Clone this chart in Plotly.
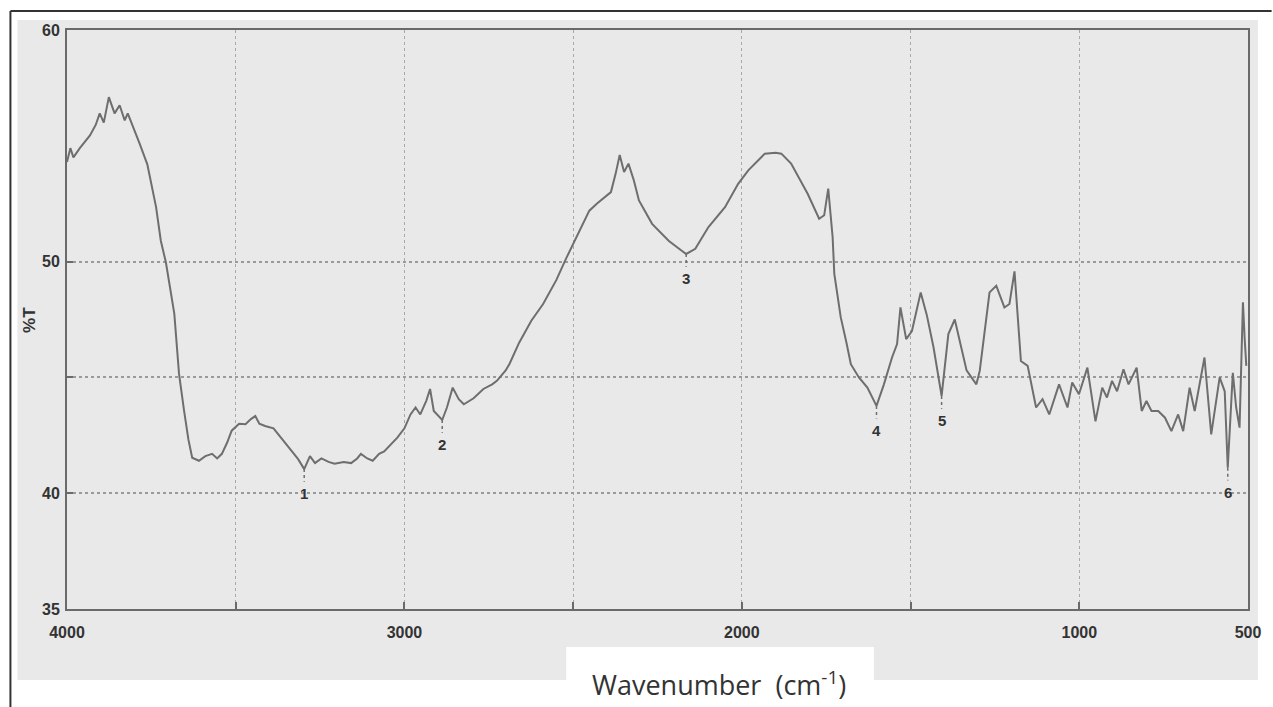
import numpy as np
import plotly.graph_objects as go

# ---- data ----
wavenumber = [4000, 3990, 3981, 3962, 3932, 3915, 3903, 3891, 3876, 3859, 3844, 3829, 3820, 3800,
              3785, 3762, 3745, 3736, 3722, 3707, 3682, 3668, 3653, 3640, 3629, 3609, 3590, 3570,
              3555, 3541, 3525, 3512, 3490, 3471, 3455, 3442, 3430, 3413, 3388, 3365, 3344, 3315,
              3297, 3280, 3265, 3246, 3225, 3207, 3180, 3158, 3140, 3129, 3110, 3094, 3075, 3060,
              3040, 3021, 3000, 2982, 2967, 2953, 2935, 2924, 2913, 2888, 2874, 2857, 2839, 2824,
              2795, 2766, 2740, 2726, 2700, 2688, 2660, 2624, 2589, 2550, 2521, 2491, 2452, 2430,
              2413, 2388, 2374, 2362, 2349, 2336, 2320, 2305, 2266, 2217, 2190, 2165, 2138, 2099,
              2050, 2011, 1981, 1950, 1932, 1900, 1883, 1854, 1805, 1771, 1756, 1744, 1731, 1726,
              1707, 1690, 1677, 1653, 1628, 1601, 1579, 1555, 1540, 1530, 1513, 1496, 1470, 1452,
              1432, 1408, 1388, 1369, 1334, 1305, 1295, 1266, 1246, 1222, 1207, 1192, 1173, 1153,
              1128, 1109, 1089, 1060, 1035, 1021, 1001, 976, 952, 932, 918, 903, 888, 869, 854,
              830, 815, 801, 786, 766, 746, 727, 707, 692, 673, 658, 629, 609, 584, 569, 560, 545,
              535, 525, 515, 510, 505]
transmittance = [54.3, 54.9, 54.5, 54.9, 55.45, 55.9, 56.4, 56.0, 57.1, 56.4, 56.75, 56.1, 56.4, 55.7,
                 55.1, 54.2, 53.0, 52.35, 50.9, 49.97, 47.75, 45.15, 43.55, 42.3, 41.53, 41.4, 41.6, 41.7,
                 41.5, 41.7, 42.2, 42.7, 43.0, 42.98, 43.2, 43.33, 43.0, 42.9, 42.8, 42.4, 42.0, 41.47,
                 41.04, 41.6, 41.3, 41.5, 41.35, 41.27, 41.35, 41.3, 41.5, 41.7, 41.5, 41.4, 41.7, 41.8,
                 42.1, 42.4, 42.8, 43.4, 43.7, 43.4, 44.0, 44.5, 43.55, 43.16, 43.7, 44.56, 44.06, 43.84,
                 44.1, 44.5, 44.7, 44.85, 45.3, 45.6, 46.5, 47.45, 48.17, 49.2, 50.13, 51.05, 52.2, 52.5,
                 52.7, 53.0, 53.8, 54.6, 53.87, 54.23, 53.5, 52.64, 51.63, 50.9, 50.6, 50.33, 50.55, 51.49,
                 52.35, 53.36, 53.94, 54.4, 54.66, 54.7, 54.66, 54.23, 52.93, 51.85, 52.0, 53.15, 51.05, 49.47,
                 47.6, 46.5, 45.57, 45.0, 44.56, 43.77, 44.7, 45.86, 46.44, 48.02, 46.65, 47.0, 48.67, 47.7,
                 46.3, 44.2, 46.87, 47.5, 45.3, 44.7, 45.28, 48.67, 48.96, 48.02, 48.17, 49.58, 45.71, 45.5,
                 43.7, 44.06, 43.4, 44.7, 43.7, 44.78, 44.27, 45.42, 43.1, 44.56, 44.13, 44.85, 44.4, 45.35, 44.7,
                 45.42, 43.55, 43.98, 43.55, 43.55, 43.26, 42.68, 43.4, 42.68, 44.56, 43.55, 45.86, 42.54, 45.0, 44.4, 41.1, 45.2,
                 43.7, 42.83, 48.24, 46.7, 45.5]

peak_wn = [3297, 2888, 2165, 1601, 1408, 560]
peak_labels = ["1", "2", "3", "4", "5", "6"]

x_tickvals = [4000, 3000, 2000, 1000, 500]
x_ticktext = ["4000", "3000", "2000", "1000", "500"]
x_minor = [3500, 2500, 1500]
y_tickvals = [35, 40, 50, 60]
y_ticktext = ["35", "40", "50", "60"]
y_minor = [45]

tick_font = dict(family="Liberation Sans Narrow, Arial Narrow, Liberation Sans, sans-serif",
                 size=16, color="#333333", weight="bold")

fig = go.Figure()
fig.add_trace(go.Scatter(x=wavenumber, y=transmittance, mode="lines",
                         line=dict(color="#6e6e6e", width=2), hoverinfo="skip", showlegend=False))

# peak labels with small dashed ticks below each minimum
w_rev = np.array(wavenumber[::-1], dtype=float)
t_rev = np.array(transmittance[::-1], dtype=float)
for pw, lab in zip(peak_wn, peak_labels):
    yv = float(np.interp(pw, w_rev, t_rev))
    fig.add_shape(type="line", xref="x", yref="y", x0=pw, x1=pw, y0=yv, y1=yv - 0.55,
                  line=dict(color="#6e6e6e", width=1.5, dash="dot"))
    fig.add_annotation(x=pw, y=yv - 0.6, xref="x", yref="y", text=lab, showarrow=False,
                       yanchor="top", font=dict(family="Liberation Sans Narrow, Arial Narrow, Liberation Sans, sans-serif",
                                                size=15, color="#333333", weight="bold"))

# paper-like gray background, white label box, outer frame
fig.add_shape(type="rect", xref="paper", yref="paper", x0=-0.042, x1=1.0084, y0=-0.1226, y1=1.0173,
              fillcolor="#e9e9e9", line=dict(width=0), layer="below")
fig.add_shape(type="rect", xref="paper", yref="paper", x0=0.4227, x1=0.6832, y0=-0.17, y1=-0.0656,
              fillcolor="#ffffff", line=dict(width=0), layer="below")
fig.add_shape(type="line", xref="paper", yref="paper", x0=-0.0479, x1=-0.0479, y0=-0.17, y1=1.0328,
              line=dict(color="#333333", width=2))
fig.add_shape(type="line", xref="paper", yref="paper", x0=-0.0479, x1=1.02, y0=1.0328, y1=1.0328,
              line=dict(color="#333333", width=2))

fig.add_annotation(xref="paper", yref="paper", x=0.552, y=-0.128, showarrow=False,
                   text="Wavenumber  (cm<sup>-1</sup>)", yanchor="middle",
                   font=dict(family="Open Sans, Noto Sans, sans-serif", size=27, color="#333333"))
fig.add_annotation(xref="paper", yref="paper", x=-0.042, y=0.499, showarrow=False, textangle=-90,
                   text="<b>%T</b>", font=dict(family="Liberation Sans, Arial, sans-serif",
                                               size=17, color="#333333"))

fig.update_layout(
    width=1273, height=707,
    margin=dict(l=67, r=16, t=30, b=98),
    paper_bgcolor="#ffffff", plot_bgcolor="#ececec",
    xaxis=dict(range=[4000, 500], tickvals=x_tickvals, ticktext=x_ticktext,
               showgrid=True, gridcolor="#a8a8a8", griddash="dot", gridwidth=1,
               showline=True, linecolor="#6a6a6a", linewidth=2, mirror=True,
               ticks="inside", ticklen=7, tickcolor="#6a6a6a", tickwidth=2,
               minor=dict(tickvals=x_minor, showgrid=True, gridcolor="#a8a8a8", griddash="dot",
                          gridwidth=1, ticks="inside", ticklen=7, tickcolor="#6a6a6a", tickwidth=2),
               tickfont=tick_font, ticklabelstandoff=8, zeroline=False),
    yaxis=dict(range=[35, 60], tickvals=y_tickvals, ticktext=y_ticktext,
               showgrid=True, gridcolor="#9a9a9a", griddash="dot", gridwidth=2,
               showline=True, linecolor="#6a6a6a", linewidth=2, mirror=True,
               ticks="inside", ticklen=6, tickcolor="#6a6a6a", tickwidth=2,
               minor=dict(tickvals=y_minor, showgrid=True, gridcolor="#9a9a9a", griddash="dot",
                          gridwidth=2, ticks="inside", ticklen=6, tickcolor="#6a6a6a", tickwidth=2),
               tickfont=tick_font, ticklabelstandoff=2, zeroline=False),
)

fig.write_html("out.html")
